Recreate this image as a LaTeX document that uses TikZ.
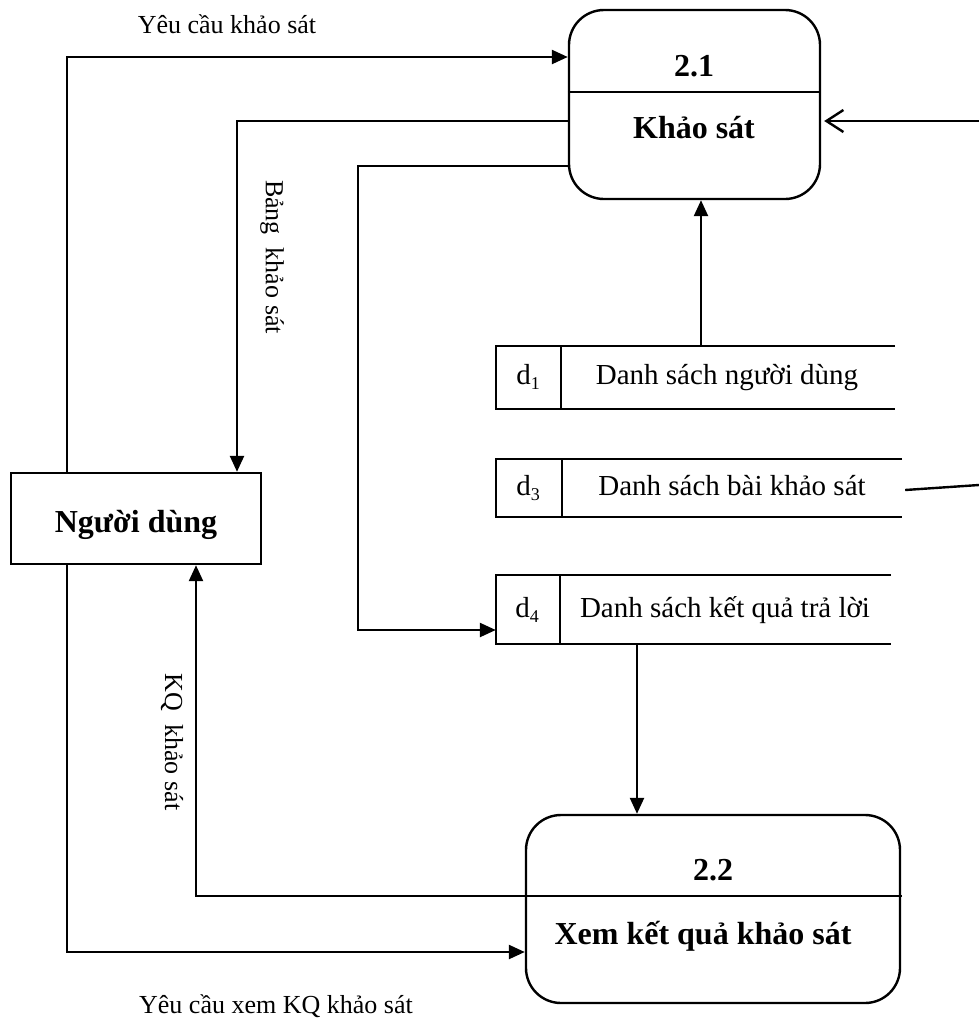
\documentclass[tikz,border=0pt]{standalone}
\usepackage{fontspec}
\setmainfont{Liberation Serif}
\usetikzlibrary{arrows.meta}
\newcommand{\subidx}[1]{\raisebox{-5pt}{\fontsize{18}{20}\selectfont #1}}
\begin{document}
\begin{tikzpicture}[x=1pt,y=-1pt,
  line/.style={line width=2.4pt},
  arr/.style={line width=2.4pt,-{Triangle[length=16pt,width=14pt]}},
  oarr/.style={line width=2.4pt,-{Straight Barb[length=17pt,width=22pt]}},
  proc/.style={draw,line width=2.4pt,rounded corners=35pt,inner sep=0pt},
  ent/.style={draw,line width=2.4pt,inner sep=0pt},
  store/.style={inner sep=0pt},
  bold/.style={font=\fontsize{32}{36}\selectfont\bfseries,anchor=base,inner sep=0pt},
  stxt/.style={font=\fontsize{29}{33}\selectfont,anchor=base,inner sep=0pt},
  lbl/.style={font=\fontsize{26}{30}\selectfont,inner sep=0pt},
]
\useasboundingbox (0,0) rectangle (979,1021);

% processes
\node[proc,minimum width=251pt,minimum height=189pt] (p21) at (694.5,104.5) {};
\node[bold] (p21n) at (694,76) {2.1};
\node[bold] (p21t) at (694,138) {Khảo sát};
\coordinate (p21d) at (0,92);
\draw[line] (p21.west |- p21d) -- (p21.east |- p21d);

\node[proc,minimum width=374pt,minimum height=188pt] (p22) at (713,909) {};
\node[bold] (p22n) at (713,880) {2.2};
\node[bold] (p22t) at (703,944) {Xem kết quả khảo sát};
\coordinate (p22d) at (902,896);
\draw[line] (p22.west |- p22d) -- (p22d);

% entity
\node[ent,minimum width=250pt,minimum height=91pt] (user) at (136,518.5) {};
\node[bold] (usert) at (136,532) {Người dùng};

% data stores
\node[store,minimum width=399pt,minimum height=63pt] (d1) at (695.5,377.5) {};
\node[stxt] (d1k) at (528,384) {d\subidx{1}};
\node[stxt] (d1t) at (727,384) {Danh sách người dùng};
\draw[line] (d1.north east) -- (d1.north west) -- (d1.south west) -- (d1.south east);
\draw[line] ([xshift=65pt]d1.north west) -- ([xshift=65pt]d1.south west);

\node[store,minimum width=406pt,minimum height=58pt] (d3) at (699,488) {};
\node[stxt] (d3k) at (528,495) {d\subidx{3}};
\node[stxt] (d3t) at (732,495) {Danh sách bài khảo sát};
\draw[line] (d3.north east) -- (d3.north west) -- (d3.south west) -- (d3.south east);
\draw[line] ([xshift=66pt]d3.north west) -- ([xshift=66pt]d3.south west);

\node[store,minimum width=395pt,minimum height=69pt] (d4) at (693.5,609.5) {};
\node[stxt] (d4k) at (527,617) {d\subidx{4}};
\node[stxt] (d4t) at (725,617) {Danh sách kết quả trả lời};
\draw[line] (d4.north east) -- (d4.north west) -- (d4.south west) -- (d4.south east);
\draw[line] ([xshift=64pt]d4.north west) -- ([xshift=64pt]d4.south west);

% connectors
\coordinate (a1) at (67,57);
\draw[arr] (user.north -| a1) |- (p21.west |- a1);
\node[lbl,anchor=base] (l1) at (227,33) {Yêu cầu khảo sát};

\coordinate (a2) at (237,121);
\draw[arr] (p21.west |- a2) -| (user.north -| a2);
\node[lbl,rotate=-90] (l2) at (272,257) {Bảng\ \ khảo sát};

\coordinate (a3) at (358,166);
\coordinate (a3b) at (358,630);
\draw[arr] (p21.west |- a3) -- (a3) -- (a3b) -- (d4.west |- a3b);

\coordinate (a4) at (701,0);
\draw[arr] (d1.north -| a4) -- (p21.south -| a4);

\coordinate (e1) at (979,121);
\draw[oarr,shorten >=3pt] (e1) -- (p21.east |- e1);

\coordinate (e2) at (979,485);
\draw[line] ([xshift=3pt,yshift=-2pt]d3.east) -- (e2);

\coordinate (a7) at (637,0);
\draw[arr] (d4.south -| a7) -- (p22.north -| a7);

\coordinate (a8) at (196,896);
\draw[arr] (p22.west |- a8) -| (user.south -| a8);
\node[lbl,rotate=-90] (l8) at (172,742) {KQ\ \ khảo sát};

\coordinate (a9) at (67,952);
\draw[arr] (user.south -| a9) |- (p22.west |- a9);
\node[lbl,anchor=base] (l9) at (276,1013) {Yêu cầu xem KQ khảo sát};
\end{tikzpicture}
\end{document}
